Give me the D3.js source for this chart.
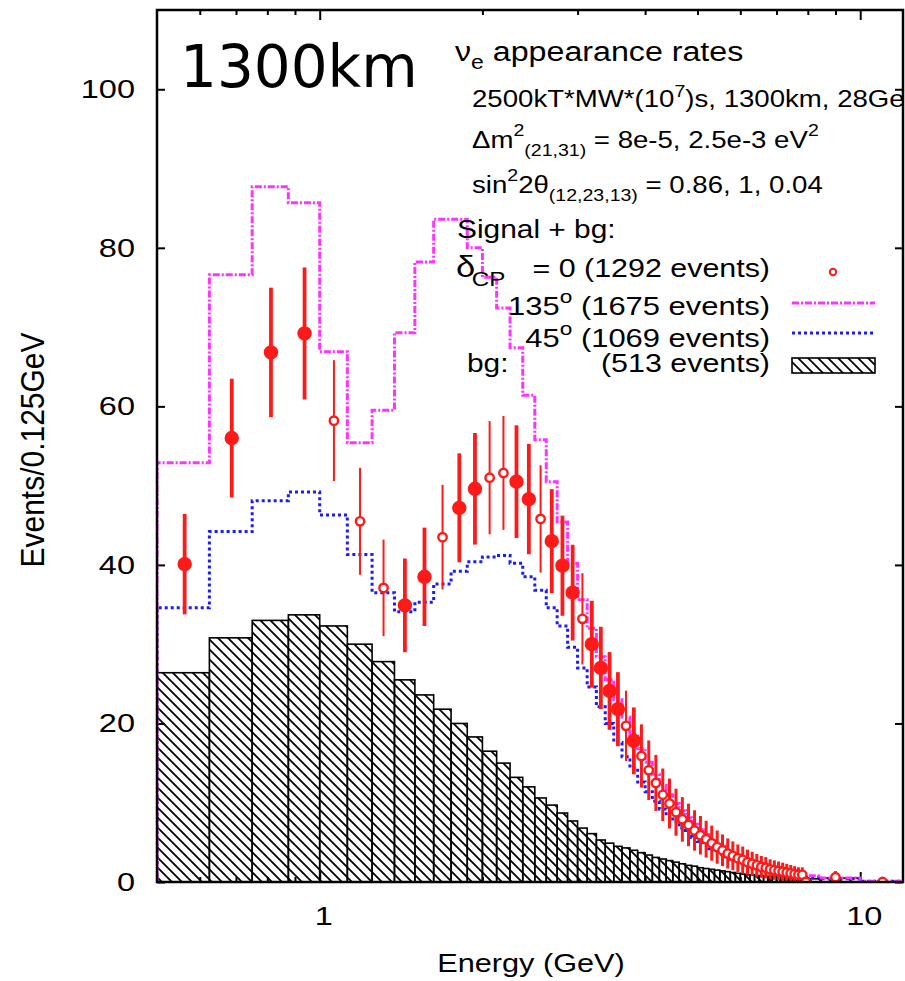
<!DOCTYPE html>
<html>
<head>
<meta charset="utf-8">
<script src="https://cdn.jsdelivr.net/npm/d3@7"></script>
<style>
  body { margin: 0; background: #fff; }
  svg { display: block; }
</style>
</head>
<body>
<div id="chart-container"></div>
<script>
// bin centres (GeV), 0.125 GeV bins up to 8 GeV, then two wide bins
const energies = [0.5625, 0.6875, 0.8125, 0.9375, 1.0625, 1.1875, 1.3125, 1.4375, 1.5625, 1.6875,
  1.8125, 1.9375, 2.0625, 2.1875, 2.3125, 2.4375, 2.5625, 2.6875, 2.8125, 2.9375,
  3.0625, 3.1875, 3.3125, 3.4375, 3.5625, 3.6875, 3.8125, 3.9375, 4.0625, 4.1875,
  4.3125, 4.4375, 4.5625, 4.6875, 4.8125, 4.9375, 5.0625, 5.1875, 5.3125, 5.4375,
  5.5625, 5.6875, 5.8125, 5.9375, 6.0625, 6.1875, 6.3125, 6.4375, 6.5625, 6.6875,
  6.8125, 6.9375, 7.0625, 7.1875, 7.3125, 7.4375, 7.5625, 7.6875, 7.8125, 7.9375,
  9, 11];

// signal + bg, delta_CP = 0 (points)
const cp0 = [40.1, 56.0, 66.8, 69.2, 58.2, 45.5, 37.1, 34.9, 38.5, 43.5,
  47.2, 49.6, 51.0, 51.6, 50.5, 48.3, 45.8, 43.0, 39.9, 36.5,
  33.2, 30.0, 27.0, 24.1, 21.8, 19.7, 17.8, 15.9, 14.1, 12.5,
  11.0, 9.9, 8.8, 7.9, 7.2, 6.5, 5.9, 5.4, 4.9, 4.4,
  4.0, 3.6, 3.3, 3.0, 2.8, 2.5, 2.3, 2.1, 1.9, 1.8,
  1.6, 1.5, 1.4, 1.3, 1.2, 1.1, 1.0, 0.9, 0.9, 0.0,
  0.6, 0.0];

// signal + bg, delta_CP = 135 deg
const cp135 = [52.9, 76.6, 87.7, 85.7, 66.9, 55.4, 59.5, 69.3, 78.2, 83.6,
  83.6, 80.0, 76.3, 72.4, 67.4, 61.4, 55.8, 50.5, 45.4, 40.2,
  35.6, 32.0, 28.4, 25.5, 23.0, 20.8, 18.6, 16.8, 15.1, 13.6,
  12.2, 11.0, 9.9, 9.0, 8.1, 7.3, 6.6, 6.0, 5.4, 4.9,
  4.5, 4.1, 3.7, 3.4, 3.1, 2.8, 2.6, 2.4, 2.2, 2.0,
  1.8, 1.7, 1.5, 1.4, 1.3, 1.2, 1.1, 1.0, 0.9, 0.8,
  0.5, 0.1];

// signal + bg, delta_CP = 45 deg
const cp45 = [34.6, 44.2, 48.1, 49.2, 46.3, 41.3, 36.5, 34.1, 35.3, 37.6,
  39.2, 40.4, 41.0, 41.2, 40.2, 38.5, 36.8, 34.6, 32.3, 29.6,
  27.0, 24.6, 22.1, 20.0, 17.6, 15.8, 14.4, 12.6, 11.4, 10.2,
  9.2, 8.3, 7.6, 6.8, 6.2, 5.6, 5.1, 4.7, 4.2, 3.9,
  3.5, 3.2, 2.9, 2.7, 2.4, 2.2, 2.0, 1.9, 1.7, 1.6,
  1.4, 1.3, 1.2, 1.1, 1.0, 0.9, 0.8, 0.8, 0.7, 0.6,
  0.4, 0.1];

// background only
const bg = [26.4, 30.8, 33.0, 33.7, 32.3, 30.0, 27.8, 25.5, 23.6, 21.8,
  20.0, 18.3, 16.5, 15.0, 13.2, 12.0, 10.6, 9.7, 8.7, 7.7,
  6.8, 6.1, 5.3, 4.9, 4.5, 4.3, 4.0, 3.7, 3.4, 3.1,
  2.9, 2.7, 2.5, 2.3, 2.1, 2.0, 1.8, 1.7, 1.6, 1.5,
  1.4, 1.3, 1.2, 1.1, 1.0, 0.9, 0.9, 0.8, 0.8, 0.7,
  0.7, 0.7, 0.6, 0.6, 0.5, 0.5, 0.5, 0.4, 0.4, 0.4,
  0.5, 0.0];

const yTicks = [0, 20, 40, 60, 80, 100];
const xMajor = [1, 10];
const xMinor = [0.6, 0.7, 0.8, 0.9, 2, 3, 4, 5, 6, 7, 8, 9];

// points that came out as solid blobs in the original raster, rest are rings
const solidIdx = [0, 1, 2, 3, 7, 8, 10, 11, 14, 15, 17, 18, 19, 21, 22, 23, 24, 26];

(() => {
  const W = 905, H = 981;
  const plot = { left: 157, right: 903, top: 10, bottom: 882 };
  const FONT = "'Liberation Sans', Arial, Helvetica, sans-serif";
  const SX = 1.15;   // gnuplot output was stretched sideways
  const RED = "#ff1a1a", MAG = "#ff33ff", BLUE = "#1a1aff";

  const svg = d3.select("#chart-container")
    .append("svg")
    .attr("width", W)
    .attr("height", H);

  svg.append("rect").attr("width", W).attr("height", H).attr("fill", "#fff");

  const x = d3.scaleLog().domain([0.5, 12]).range([plot.left, plot.right]);
  const y = d3.scaleLinear().domain([0, 110]).range([plot.bottom, plot.top]);

  // histeps: edges halfway between neighbouring centres
  const edges = [x.domain()[0]];
  for (let i = 0; i < energies.length - 1; i++) edges.push((energies[i] + energies[i + 1]) / 2);
  edges.push(x.domain()[1]);

  const defs = svg.append("defs");
  defs.append("clipPath").attr("id", "clip")
    .append("rect")
    .attr("x", plot.left).attr("y", plot.top)
    .attr("width", plot.right - plot.left).attr("height", plot.bottom - plot.top);

  const pat = defs.append("pattern")
    .attr("id", "hatch")
    .attr("patternUnits", "userSpaceOnUse")
    .attr("width", 10).attr("height", 10);
  pat.append("path")
    .attr("d", "M0,0L10,10M-2,8L2,12M8,-2L12,2")
    .attr("stroke", "#000").attr("stroke-width", 1.8);

  // ticks (inward) on all four sides
  const tickG = svg.append("g").attr("stroke", "#000");
  function ticks(axis, tr) {
    const g = tickG.append("g").attr("transform", tr).call(axis);
    g.select(".domain").remove();
    g.selectAll("line").attr("stroke-width", 2);
    g.selectAll("text").remove();
  }
  ticks(d3.axisBottom(x).tickValues(xMajor).tickSize(-10).tickFormat(""), `translate(0,${plot.bottom})`);
  ticks(d3.axisBottom(x).tickValues(xMinor).tickSize(-5).tickFormat(""), `translate(0,${plot.bottom})`);
  ticks(d3.axisTop(x).tickValues(xMajor).tickSize(-10).tickFormat(""), `translate(0,${plot.top})`);
  ticks(d3.axisTop(x).tickValues(xMinor).tickSize(-5).tickFormat(""), `translate(0,${plot.top})`);
  ticks(d3.axisLeft(y).tickValues(yTicks).tickSize(-8).tickFormat(""), `translate(${plot.left},0)`);
  ticks(d3.axisRight(y).tickValues(yTicks).tickSize(-8).tickFormat(""), `translate(${plot.right},0)`);

  const data = energies.map((e, i) => ({ e, i, lo: edges[i], hi: edges[i + 1], cp0: cp0[i], cp135: cp135[i], cp45: cp45[i], bg: bg[i] }));

  const body = svg.append("g").attr("clip-path", "url(#clip)");

  // background boxes
  body.selectAll(".bg")
    .data(data.filter(d => d.bg > 0))
    .enter().append("rect")
    .attr("class", "bg")
    .attr("x", d => x(d.lo))
    .attr("width", d => x(d.hi) - x(d.lo))
    .attr("y", d => y(d.bg))
    .attr("height", d => y(0) - y(d.bg))
    .attr("fill", "url(#hatch)")
    .attr("stroke", "#000")
    .attr("stroke-width", 1.6);

  // step outline for a series
  function steps(key) {
    const pts = [[x(edges[0]), y(0)]];
    data.forEach(d => {
      pts.push([x(d.lo), y(d[key])]);
      pts.push([x(d.hi), y(d[key])]);
    });
    pts.push([x(edges[edges.length - 1]), y(0)]);
    return d3.line()(pts);
  }

  body.append("path")
    .attr("d", steps("cp45"))
    .attr("fill", "none")
    .attr("stroke", BLUE)
    .attr("stroke-width", 3)
    .attr("stroke-dasharray", "3,3");

  body.append("path")
    .attr("d", steps("cp135"))
    .attr("fill", "none")
    .attr("stroke", MAG)
    .attr("stroke-width", 3)
    .attr("stroke-dasharray", "7,2,2,2");

  // error bars + markers
  const pts = body.append("g");
  const isSolid = d => solidIdx.includes(d.i);
  pts.selectAll(".err")
    .data(data.filter(d => d.cp0 > 0))
    .enter().append("line")
    .attr("class", "err")
    .attr("x1", d => x(d.e)).attr("x2", d => x(d.e))
    .attr("y1", d => y(d.cp0 - Math.sqrt(d.cp0)))
    .attr("y2", d => y(d.cp0 + Math.sqrt(d.cp0)))
    .attr("stroke", RED)
    .attr("stroke-width", d => isSolid(d) ? 3.8 : (d.i > 26 ? 3 : 2));

  pts.selectAll(".pt")
    .data(data)
    .enter().append("circle")
    .attr("class", "pt")
    .attr("cx", d => x(d.e))
    .attr("cy", d => y(d.cp0))
    .attr("r", d => isSolid(d) ? 6 : 4.2)
    .attr("fill", d => isSolid(d) ? RED : "#fff")
    .attr("stroke", RED)
    .attr("stroke-width", 2.4);

  // frame
  svg.append("rect")
    .attr("x", plot.left).attr("y", plot.top)
    .attr("width", plot.right - plot.left).attr("height", plot.bottom - plot.top)
    .attr("fill", "none").attr("stroke", "#000").attr("stroke-width", 2.5);

  // text helper, stretched sideways like the source raster
  function txt(px, py, anchor, size, parts, opt) {
    opt = opt || {};
    const sx = opt.sx || SX;
    const g = svg.append("g")
      .attr("transform", `translate(${px},${py}) scale(${sx},1)` + (opt.rot ? ` rotate(${opt.rot})` : ""));
    const t = g.append("text")
      .attr("text-anchor", anchor)
      .style("font-family", FONT)
      .style("font-size", size + "px")
      .attr("fill", "#000");
    let shift = 0;
    parts.forEach(p => {
      const s = typeof p === "string" ? { t: p } : p;
      const dy = (s.dy || 0) - shift;
      shift = s.dy || 0;
      t.append("tspan")
        .attr("dy", dy)
        .attr("dx", s.dx || 0)
        .style("font-size", (s.s || size) + "px")
        .text(s.t);
    });
    return t;
  }

  // axis labels
  yTicks.forEach(v => txt(135, y(v) + 9, "end", 25, [String(v)], { sx: 1.3 }));
  xMajor.forEach(v => txt(x(v) + 4, 925, "middle", 25, [String(v)], { sx: 1.3 }));
  txt(531, 972, "middle", 26, ["Energy (GeV)"], { sx: 1.18 });
  txt(44, 450, "middle", 30, ["Events/0.125GeV"], { sx: 1.1, rot: -90 });

  // big distance label
  svg.append("text")
    .attr("x", 180).attr("y", 87)
    .style("font-family", "'DejaVu Sans', sans-serif")
    .style("font-size", "58px")
    .text("1300km");

  // info block
  const FS = 24, SUB = 17;
  txt(455, 61, "start", 28, ["\u03bd", { t: "e", s: 20, dy: 8 }, { t: " appearance rates", dy: 0 }]);
  txt(472, 107, "start", FS, ["2500kT*MW*(10", { t: "7", s: SUB, dy: -10 }, { t: ")s, 1300km, 28GeV", dy: 0 }]);
  txt(472, 148, "start", FS, ["\u0394m", { t: "2", s: SUB, dy: -12 }, { t: "(21,31)", s: SUB, dy: 8 }, { t: " = 8e-5, 2.5e-3 eV", dy: 0 }, { t: "2", s: SUB, dy: -12 }]);
  txt(472, 193, "start", FS, ["sin", { t: "2", s: SUB, dy: -12 }, { t: "2\u03b8", dy: 0 }, { t: "(12,23,13)", s: SUB, dy: 8 }, { t: " = 0.86, 1, 0.04", dy: 0 }]);

  const LF = 26;
  txt(457, 238, "start", LF, ["Signal + bg:"]);
  txt(456, 277, "start", LF + 4, ["\u03b4", { t: "CP", s: 21, dy: 9, dx: -3 }]);
  txt(770, 277, "end", LF, ["=  0 (1292 events)"], { sx: 1.17 });
  txt(770, 315, "end", LF, ["135", { t: "o", s: 19, dy: -12 }, { t: " (1675 events)", dy: 0 }], { sx: 1.19 });
  txt(770, 347, "end", LF, ["45", { t: "o", s: 19, dy: -12 }, { t: " (1069 events)", dy: 0 }], { sx: 1.19 });
  txt(467, 372, "start", LF, ["bg:"]);
  txt(770, 372, "end", LF, ["(513 events)"], { sx: 1.17 });

  // legend samples
  const lx0 = 792, lx1 = 875;
  svg.append("circle").attr("cx", 833).attr("cy", 272).attr("r", 3.2)
    .attr("fill", "#fff").attr("stroke", RED).attr("stroke-width", 2);
  svg.append("line").attr("x1", lx0).attr("x2", lx1).attr("y1", 303).attr("y2", 303)
    .attr("stroke", MAG).attr("stroke-width", 3).attr("stroke-dasharray", "7,2,2,2");
  svg.append("line").attr("x1", lx0).attr("x2", lx1).attr("y1", 333).attr("y2", 333)
    .attr("stroke", BLUE).attr("stroke-width", 3).attr("stroke-dasharray", "3,3");
  svg.append("rect").attr("x", lx0).attr("y", 358).attr("width", lx1 - lx0).attr("height", 15)
    .attr("fill", "url(#hatch)").attr("stroke", "#000").attr("stroke-width", 1.6);
})();
</script>
</body>
</html>
